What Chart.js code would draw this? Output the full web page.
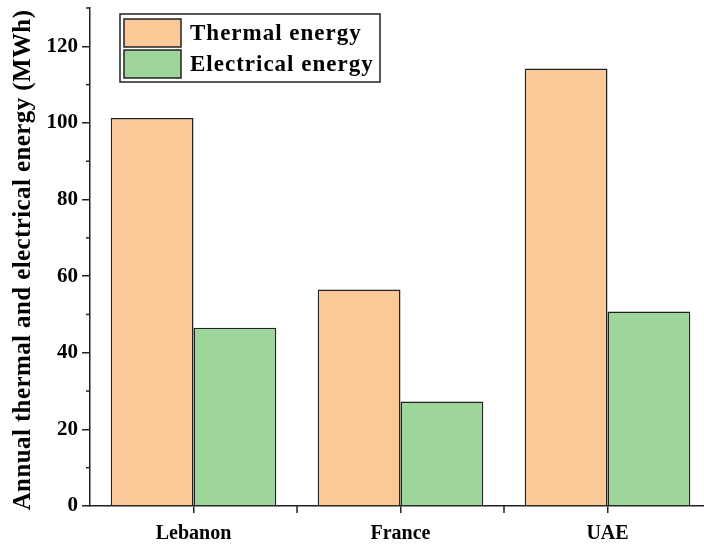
<!DOCTYPE html>
<html>
<head>
  <title>Annual energy</title>
  <script src="https://cdn.jsdelivr.net/npm/chart.js"></script>
  <style>
    body { margin: 0; overflow: hidden; background: #fff; }
    #wrap { width: 712px; height: 546px; }
  </style>
</head>
<body>
  <div id="wrap"><canvas id="energyChart"></canvas></div>

  <script>
    const countries = ['Lebanon', 'France', 'UAE'];
    const thermal = [101.3, 56.5, 114.2];
    const electrical = [46.5, 27.3, 50.8];
    const yTicks = [0, 20, 40, 60, 80, 100, 120];
    const yMinor = [10, 30, 50, 70, 90, 110, 130];
    const yTitle = 'Annual thermal and electrical energy (MWh)';

    const serif = "'Liberation Serif', 'Times New Roman', serif";
    const ink = '#222';

    // minor ticks, category boundary ticks, axis title and legend box
    const extras = {
      id: 'extras',
      afterDraw(chart) {
        const ctx = chart.ctx;
        const x = chart.scales.x, y = chart.scales.y;
        ctx.save();
        ctx.strokeStyle = ink;
        ctx.lineWidth = 1.5;
        yMinor.forEach(v => {
          const py = y.getPixelForValue(v);
          ctx.beginPath();
          ctx.moveTo(x.left, py);
          ctx.lineTo(x.left - 4, py);
          ctx.stroke();
        });
        for (let i = 0; i < countries.length - 1; i++) {
          const px = (x.getPixelForValue(i) + x.getPixelForValue(i + 1)) / 2;
          ctx.beginPath();
          ctx.moveTo(px, y.bottom);
          ctx.lineTo(px, y.bottom + 7);
          ctx.stroke();
        }

        // y title, a bit wider spaced like the original
        ctx.save();
        ctx.translate(24, (y.top + y.bottom) / 2 + 3);
        ctx.rotate(-Math.PI / 2);
        ctx.font = 'bold 25px ' + serif;
        ctx.letterSpacing = '0.4px';
        ctx.fillStyle = '#000';
        ctx.textAlign = 'center';
        ctx.textBaseline = 'middle';
        ctx.fillText(yTitle, 0, 0);
        ctx.restore();

        // legend
        const bx = 120, by = 14, bw = 260, bh = 68;
        ctx.fillStyle = '#fff';
        ctx.fillRect(bx, by, bw, bh);
        ctx.lineWidth = 1.5;
        ctx.strokeRect(bx, by, bw, bh);
        ctx.font = 'bold 23px ' + serif;
        ctx.letterSpacing = '1px';
        ctx.textBaseline = 'middle';
        chart.data.datasets.forEach((ds, i) => {
          const sy = by + 5 + i * 31;
          ctx.fillStyle = ds.backgroundColor;
          ctx.fillRect(bx + 4, sy, 57, 28);
          ctx.strokeStyle = ink;
          ctx.strokeRect(bx + 4, sy, 57, 28);
          ctx.fillStyle = '#000';
          ctx.fillText(ds.label, bx + 70, sy + 15);
        });
        ctx.restore();
      }
    };

    new Chart(document.getElementById('energyChart'), {
      type: 'bar',
      data: {
        labels: countries,
        datasets: [
          { label: 'Thermal energy', data: thermal, backgroundColor: '#fbc897',
            borderColor: ink, borderWidth: 1.5 },
          { label: 'Electrical energy', data: electrical, backgroundColor: '#9dd59b',
            borderColor: ink, borderWidth: 1.5 }
        ]
      },
      options: {
        responsive: true,
        maintainAspectRatio: false,
        animation: false,
        datasets: { bar: { categoryPercentage: 0.8, barPercentage: 1.0 } },
        layout: { padding: { top: 8, right: 1, left: 0, bottom: 0 } },
        plugins: { legend: { display: false }, tooltip: { enabled: false } },
        scales: {
          x: {
            afterFit: s => { s.height = 40; s.paddingLeft = 0; s.paddingRight = 0; },
            grid: { offset: false, drawOnChartArea: false, drawTicks: true, tickLength: 7, color: ink, lineWidth: 1.5 },
            border: { color: ink, width: 1.5 },
            ticks: { color: '#000', padding: 9, font: { family: serif, size: 20, weight: 'bold' } }
          },
          y: {
            min: 0, max: 130,
            afterBuildTicks: s => { s.ticks = yTicks.map(v => ({ value: v })); },
            afterFit: s => { s.width = 90; s.paddingTop = 0; s.paddingBottom = 0; },
            grid: { drawOnChartArea: false, drawTicks: true, tickLength: 8, color: ink, lineWidth: 1.5 },
            border: { color: ink, width: 1.5 },
            ticks: { color: '#000', padding: 4, font: { family: serif, size: 21, weight: 'bold' } }
          }
        }
      },
      plugins: [extras]
    });
  </script>
</body>
</html>
